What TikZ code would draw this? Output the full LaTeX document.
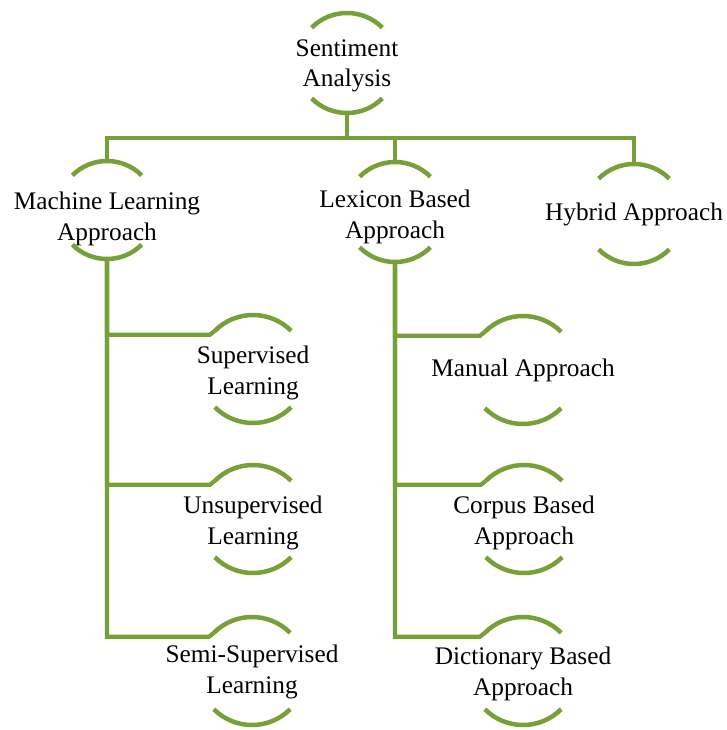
\documentclass[tikz,border=0pt]{standalone}
\usepackage{fontspec}
\setmainfont{Liberation Serif}
\usepackage{tikz}
\usetikzlibrary{calc}
\definecolor{saGreen}{RGB}{120,160,56}
\tikzset{
  lbl/.style={align=center, inner sep=0pt, font=\fontsize{18}{21.5}\selectfont},
  arcline/.style={draw=saGreen, line width=3.2pt},
  link/.style={draw=saGreen, line width=3pt},
}

\begin{document}
\begin{tikzpicture}[x=0.025cm, y=-0.025cm]
  \useasboundingbox (0,0) rectangle (726,730);

  % labels (pixel grid, y down)
  \node[lbl] (sa) at (347,66) {Sentiment\\Analysis};
  \node[lbl] (ml) at (107,219) {Machine Learning\\Approach};
  \node[lbl] (lb) at (395,217) {Lexicon Based\\Approach};
  \node[lbl] (hy) at (634,214) {Hybrid Approach};
  \node[lbl] (sup) at (253,373) {Supervised\\Learning};
  \node[lbl] (uns) at (253,523) {Unsupervised\\Learning};
  \node[lbl] (semi) at (252,672) {Semi-Supervised\\Learning};
  \node[lbl] (man) at (523,370) {Manual Approach};
  \node[lbl] (cor) at (524,523) {Corpus Based\\Approach};
  \node[lbl] (dic) at (523,674) {Dictionary Based\\Approach};

  % arcs above and below each label (radius, shift of arc centre)
  \foreach \n/\r/\dy in {sa/50/-3, ml/49/-9, lb/50/-5, hy/50/0, sup/54/-4,
      uns/54/-4, semi/54/-1, man/54/0, cor/54/-4, dic/54/-3}{
    \coordinate (\n-c) at ($(\n.center)+(0,\dy)$);
    \draw[arcline] ($(\n-c)+(225:\r)$) arc[start angle=225, end angle=315, radius=\r];
    \draw[arcline] ($(\n-c)+(45:\r)$) arc[start angle=45, end angle=135, radius=\r];
    \coordinate (\n-t) at ($(\n-c)+(0,-\r)$);
    \coordinate (\n-b) at ($(\n-c)+(0,\r)$);
    \coordinate (\n-e) at ($(\n-c)+(225:\r)$);
    \coordinate (\n-k) at ($(\n-e)+(-5,4)$);
  }

  % top level
  \draw[link] (sa-b) -- ++(0,25) coordinate (bus);
  \draw[link] (ml-t) |- (bus) -| (hy-t);
  \draw[link] (lb-t) -- (lb-t |- bus);

  % machine learning branch
  \foreach \n in {sup,uns,semi}
    \draw[link] (ml-b) |- (\n-k) -- (\n-e);

  % lexicon branch
  \foreach \n in {man,cor,dic}
    \draw[link] (lb-b) |- (\n-k) -- (\n-e);
\end{tikzpicture}
\end{document}
